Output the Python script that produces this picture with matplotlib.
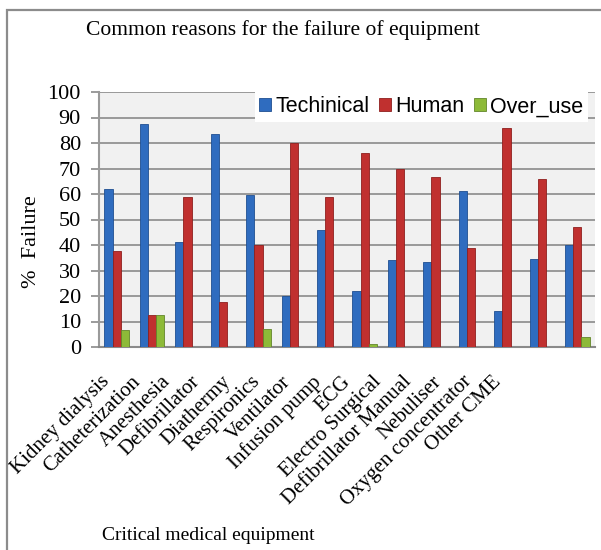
import matplotlib
matplotlib.use("Agg")
import matplotlib.pyplot as plt
import matplotlib.transforms as mtransforms
from matplotlib.patches import Rectangle
import numpy as np

categories = ["Kidney dialysis", "Catheterization", "Anesthesia", "Defibrillator",
              "Diathermy", "Respironics", "Ventilator", "Infusion pump", "ECG",
              "Electro Surgical", "Defibrillator Manual", "Nebuliser",
              "Oxygen concentrator", "Other CME"]
technical = [62, 87.5, 41, 83.5, 59.5, 20, 46, 22, 34, 33.5, 61, 14, 34.5, 40]
human = [37.5, 12.5, 59, 17.5, 40, 80, 59, 76, 70, 66.5, 39, 86, 66, 47]
over_use = [6.5, 12.5, 0, 0, 7, 0, 0, 1, 0, 0, 0, 0, 0, 4]
series_names = ["Techinical", "Human", "Over_use"]
yticks = list(range(0, 101, 10))

W, H = 601, 550
fig = plt.figure(figsize=(W / 100, H / 100), dpi=100)
fig.patch.set_facecolor("white")

# outer chart border
fig.add_artist(Rectangle((7 / W, -0.01), 1.0, 1 - 10 / H + 0.01, transform=fig.transFigure,
                         fill=False, edgecolor="#8c8c8c", linewidth=1.6))

ax = fig.add_axes([99 / W, 1 - 347 / H, (595 - 99) / W, (347 - 92) / H])
ax.set_facecolor("#f1f1f1")

x = np.arange(len(categories))
w = 0.23
cols = ["#2f6cbf", "#c0302f", "#8dba38"]
edges = ["#1f4f91", "#8e1f1e", "#62862a"]
for off, vals, c, e, name in zip([-w, 0, w], [technical, human, over_use], cols, edges, series_names):
    ax.bar(x + off, vals, width=w, color=c, edgecolor=e, linewidth=0.6, label=name, zorder=3)

ax.set_xlim(-0.5, len(categories) - 0.5)
ax.set_ylim(0, 100)
ax.set_yticks(yticks)
ax.set_yticklabels([str(t) for t in yticks], family="Liberation Serif", fontsize=16)
ax.yaxis.grid(True, color="#8a8a8a", linewidth=1.2, zorder=1)
ax.tick_params(axis="y", length=6, color="#8a8a8a", width=1.2, pad=7)
ax.tick_params(axis="x", length=0, pad=0)
for s in ["top", "right"]:
    ax.spines[s].set_visible(False)
ax.spines["left"].set_color("#9a9a9a")
ax.spines["left"].set_linewidth(1.5)
ax.spines["bottom"].set_color("#8a8a8a")
ax.spines["bottom"].set_linewidth(1.5)

ax.set_xticks(x)
ax.set_xticklabels(categories, family="Liberation Serif", fontsize=15,
                   rotation=45, ha="right", va="center", rotation_mode="anchor")
for i, lab in enumerate(ax.get_xticklabels()):
    dx = (-9.6 - 5.3 * i) / 100.0
    lab.set_transform(lab.get_transform() +
                      mtransforms.ScaledTranslation(dx, -32 / 100.0, fig.dpi_scale_trans))

leg = ax.legend(loc="upper right", bbox_to_anchor=(0.985, 1.0), ncol=3, frameon=True,
                fancybox=False, framealpha=1, edgecolor="white",
                prop={"family": "Liberation Sans", "size": 15.5},
                handlelength=0.55, handleheight=0.55, handletextpad=0.2,
                columnspacing=0.45, borderpad=0.2, borderaxespad=0)
leg.get_frame().set_linewidth(0)

fig.text(283 / W, 1 - 30 / H, "Common reasons for the failure of equipment",
         family="Liberation Serif", fontsize=15.5, ha="center", va="center")
fig.text(32 / W, 1 - 242 / H, "%  Failure", family="Liberation Serif", fontsize=16,
         rotation=90, ha="center", va="center")
fig.text(208 / W, 1 - 535 / H, "Critical medical equipment", family="Liberation Serif",
         fontsize=14, ha="center", va="center")

fig.savefig("out.png", dpi=100)
